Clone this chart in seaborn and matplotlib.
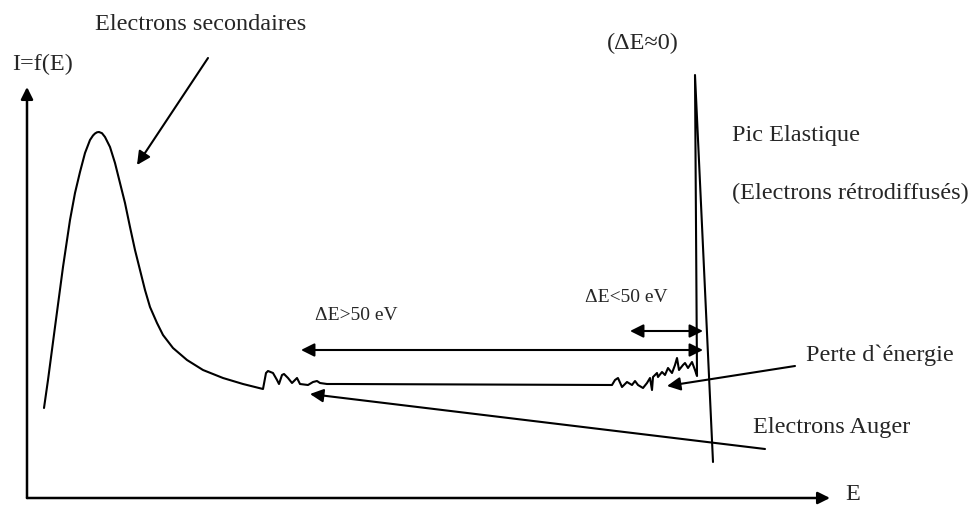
import matplotlib
matplotlib.use("Agg")
import matplotlib.pyplot as plt
import seaborn as sns
import pandas as pd

# ---- data (arbitrary units: E along x, I=f(E) along y) ----
E = [17, 21, 28, 36, 43, 48, 53, 58, 63, 66, 68, 70, 72, 75, 78, 83, 88, 93, 98, 103, 108,
     113, 118, 123, 130, 136, 146, 160, 176, 196, 216, 236,
     239, 241, 246, 250, 252, 255, 257, 261, 265, 268, 270, 273, 281, 286, 290,
     293, 300, 313,
     585, 588, 591, 595, 600, 605, 608, 611, 616, 620, 623, 625, 626, 630, 631,
     635, 638, 641, 645, 648, 650, 652, 656, 658, 661, 665, 668, 670,
     668, 686]
I = [90, 118, 171, 231, 278, 305, 326, 345, 358, 362.5, 364.5, 365.7, 366, 364.8, 361, 351, 335, 315,
     295, 271, 248, 228, 208, 191, 175, 163, 150, 138, 128, 120, 114, 109,
     125, 127, 125, 118, 114, 123, 124, 120, 115, 118, 120, 114, 113, 116, 117,
     115, 114, 114,
     113, 118, 120, 111, 116, 113, 117, 113, 110, 115, 120, 108, 121, 125, 121,
     126, 123, 130, 125, 133, 140, 128, 133, 135, 130, 136, 128, 122,
     423, 36]

labels = {
    "ylabel": "I=f(E)",
    "xlabel": "E",
    "secondary": "Electrons secondaires",
    "elastic_de": "(\u0394E\u22480)",
    "elastic": "Pic Elastique",
    "backscatter": "(Electrons r\u00e9trodiffus\u00e9s)",
    "de_small": "\u0394E<50 eV",
    "de_large": "\u0394E>50 eV",
    "loss": "Perte d`\u00e9nergie",
    "auger": "Electrons Auger",
}

sns.set_style("white")
plt.rcParams["font.family"] = ["Liberation Serif", "DejaVu Serif"]

fig = plt.figure(figsize=(9.69, 5.05), dpi=100)
ax = fig.add_axes([0, 0, 1, 1])
ax.set_xlim(-27, 942)
ax.set_ylim(-7, 498)
ax.axis("off")

df = pd.DataFrame({"E": E, "I": I})
sns.lineplot(data=df, x="E", y="I", sort=False, estimator=None, ax=ax,
             color="black", lw=1.5, solid_joinstyle="round")

def arrow(tail, tip, style="-|>", lw=1.5, ms=20):
    ax.annotate("", xy=tip, xytext=tail,
                arrowprops=dict(arrowstyle=style, lw=lw, color="black",
                                mutation_scale=ms, shrinkA=0, shrinkB=0))

# axes arrows
arrow((0, 0), (0, 411), lw=1.8, ms=18)
arrow((0, 0), (803, 0), lw=1.8, ms=18)

# annotation arrows
arrow((181, 440), (110, 333))
arrow((274, 148), (676, 148), style="<|-|>")
arrow((603, 167), (676, 167), style="<|-|>")
arrow((768, 132), (640, 112))
arrow((738, 49), (283, 104))

fs = 17.5
ax.text(-15, 434, labels["ylabel"], fontsize=fs, va="center", ha="left")
ax.text(818, 4, labels["xlabel"], fontsize=fs, va="center", ha="left")
ax.text(68, 473, labels["secondary"], fontsize=fs, va="center", ha="left")
ax.text(580, 455, labels["elastic_de"], fontsize=fs, va="center", ha="left")
ax.text(705, 363, labels["elastic"], fontsize=fs, va="center", ha="left")
ax.text(705, 305, labels["backscatter"], fontsize=fs, va="center", ha="left")
ax.text(558, 201, labels["de_small"], fontsize=14, va="center", ha="left")
ax.text(288, 183, labels["de_large"], fontsize=14, va="center", ha="left")
ax.text(779, 143, labels["loss"], fontsize=fs, va="center", ha="left")
ax.text(726, 71, labels["auger"], fontsize=fs, va="center", ha="left")

fig.savefig("out.png", dpi=100)
